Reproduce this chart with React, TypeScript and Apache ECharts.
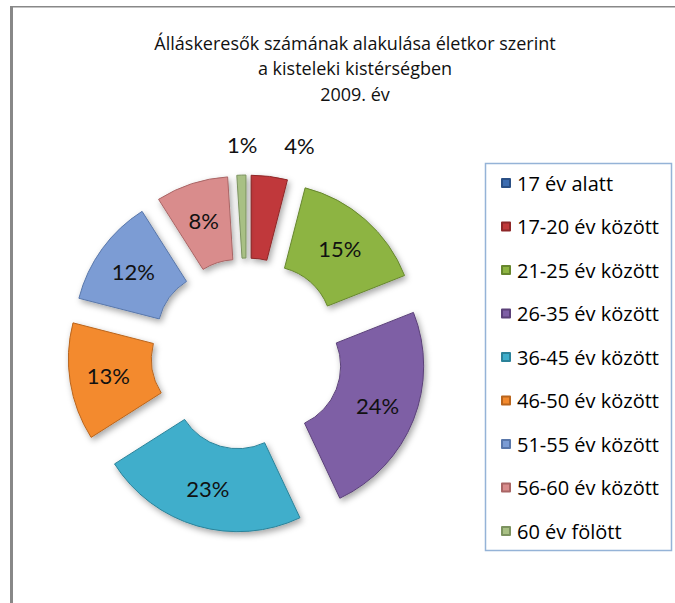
import React, { useEffect, useRef } from "react";
import * as echarts from "echarts";

const titleLines = [
  "Álláskeresők számának alakulása életkor szerint",
  "a kisteleki kistérségben",
  "2009. év",
];
const categories = [
  "17 év alatt",
  "17-20 év között",
  "21-25 év között",
  "26-35 év között",
  "36-45 év között",
  "46-50 év között",
  "51-55 év között",
  "56-60 év között",
  "60 év fölött",
];
const values = [0, 4, 15, 24, 23, 13, 12, 8, 1];
const colors = [
  "#3C6CB0",
  "#C0393A",
  "#8DB442",
  "#7E5FA5",
  "#3FAECB",
  "#F38A2E",
  "#7B9CD4",
  "#D98C8C",
  "#A8C084",
];
const borders = [
  "#2A4F85",
  "#8E2728",
  "#66862E",
  "#5B4179",
  "#2B8299",
  "#B9651D",
  "#5977AA",
  "#A96565",
  "#7C9360",
];
const outsideLabelIdx = [1, 8];

export default function App() {
  const ref = useRef<HTMLDivElement>(null);
  useEffect(() => {
    if (!ref.current) return;
    const chart = echarts.init(ref.current, null, { renderer: "svg" });
    const data = categories.map((name, i) => {
      const outside = outsideLabelIdx.includes(i);
      return {
        name,
        value: values[i],
        selected: true,
        itemStyle: { color: colors[i], borderColor: borders[i] },
        label: values[i] === 0
          ? { show: false }
          : outside
          ? { show: true, position: "outside" }
          : { show: true, position: "inside" },
        labelLine: outside ? { show: false, length: 31, length2: 0 } : { show: false },
      };
    });
    chart.setOption({
      animation: false,
      backgroundColor: "#ffffff",
      title: {
        text: titleLines.join("\n"),
        left: 350,
        top: 25,
        textAlign: "center",
        textStyle: {
          fontFamily: "Open Sans",
          fontSize: 18,
          fontWeight: "normal",
          color: "#111",
          lineHeight: 25.5,
        },
      },
      legend: {
        orient: "vertical",
        left: 496,
        top: 168,
        icon: "rect",
        itemWidth: 8,
        itemHeight: 8,
        itemGap: 23.5,
        selectedMode: false,
        data: categories,
        textStyle: {
          fontFamily: "Open Sans",
          fontSize: 20,
          lineHeight: 18,
          color: "#000",
          padding: [0, 0, 0, 2],
        },
      },
      graphic: [
        { type: "rect", shape: { x: 10, y: 6, width: 3, height: 600 }, style: { fill: "#888" } },
        { type: "rect", shape: { x: 10, y: 6, width: 665, height: 1.5 }, style: { fill: "#888" } },
        {
          type: "rect",
          shape: { x: 485.5, y: 163.5, width: 186, height: 387 },
          style: { fill: "none", stroke: "#95B3D7", lineWidth: 1.5 },
        },
      ],
      series: [
        {
          type: "pie",
          center: [247, 354],
          radius: [63, 146],
          startAngle: 90,
          clockwise: true,
          selectedMode: "multiple",
          selectedOffset: 33,
          avoidLabelOverlap: false,
          silent: true,
          emphasis: { disabled: true },
          itemStyle: {
            borderWidth: 1,
            shadowBlur: 6,
            shadowColor: "rgba(0,0,0,0.35)",
            shadowOffsetX: 2,
            shadowOffsetY: 3,
          },
          label: {
            formatter: "{c}%",
            fontFamily: "Lato",
            fontSize: 22,
            color: "#111",
          },
          labelLayout: (params: any) => {
            if (params.dataIndex === 8) return { dx: 22 };
            if (params.dataIndex === 1) return { dx: 6 };
            return {};
          },
          data,
        },
      ],
    });
    return () => chart.dispose();
  }, []);
  return (
    <div
      ref={ref}
      style={{ position: "fixed", left: 0, top: 0, width: 675, height: 603 }}
    />
  );
}
